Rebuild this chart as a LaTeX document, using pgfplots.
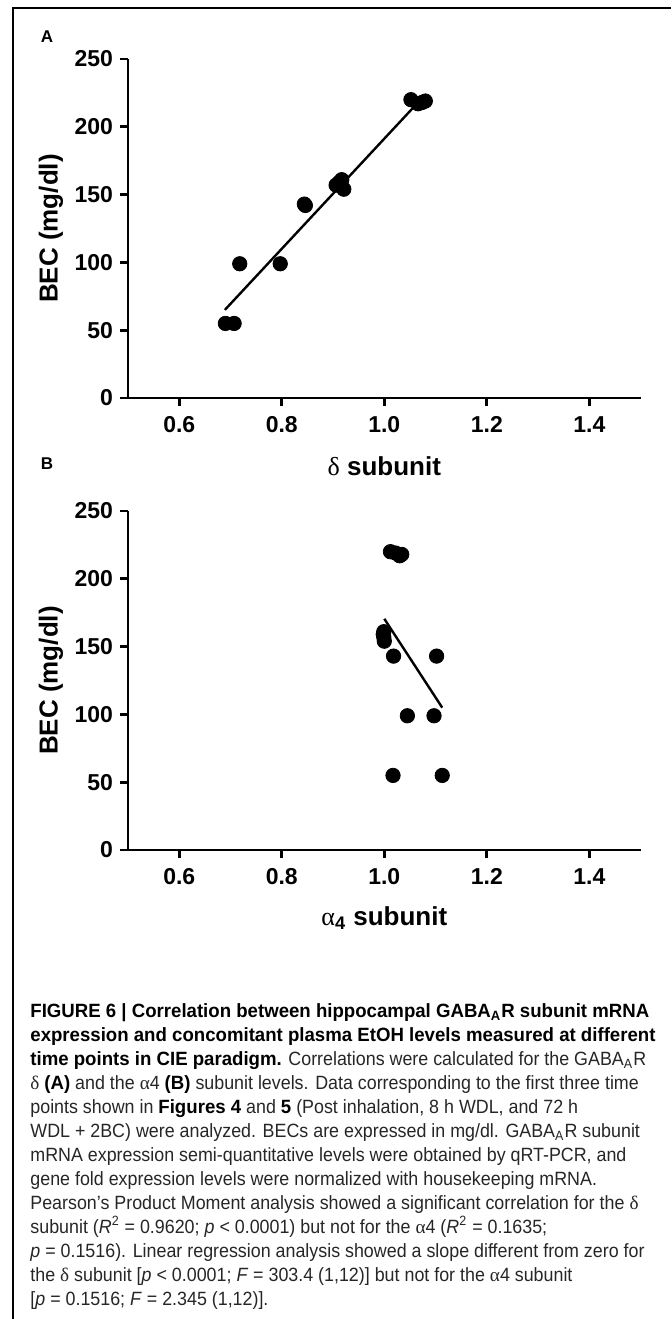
\documentclass[border=0pt]{standalone}
\usepackage{pgfplots}
\pgfplotsset{compat=1.18}
\usepackage{fontspec}
\setmainfont{Liberation Sans}
\newfontfamily\greek{Liberation Serif}
\newfontfamily\capfont[FakeStretch=0.93, BoldFeatures={FakeStretch=0.97}]{Liberation Sans}

\pgfplotstableread{
x y
0.690 55
0.707 55
0.718 99
0.797 99
0.844 143
0.846 142
0.906 157
0.912 159
0.917 161
0.921 154
1.052 220
1.066 217
1.074 218
1.080 219
}\deltadata

\pgfplotstableread{
x y
1.012 220
1.022 219
1.030 217
1.034 218
0.999 161
0.998 159
0.999 157
1.000 154
1.018 143
1.102 143
1.045 99
1.097 99
1.017 55
1.113 55
}\alphadata

\pgfplotsset{
  prism/.style={
    scale only axis, width=256.3pt, height=169.5pt,
    anchor=south west,
    xmin=0.5, xmax=1.5, ymin=0, ymax=250,
    axis x line=bottom, axis y line=left,
    axis line style={line width=1.4pt,-},
    every tick/.style={line width=1.4pt, black},
    tick align=outside, major tick length=4pt,
    xtick={0.6,0.8,1.0,1.2,1.4},
    xticklabels={0.6,0.8,1.0,1.2,1.4},
    ytick={0,50,100,150,200,250},
    /pgf/number format/assume math mode=true,
    ticklabel style={font=\bfseries\fontsize{11.5}{13}\selectfont},
    xticklabel style={text height=8.3pt, text depth=0pt, yshift=-1.5pt},
    xlabel style={at={(axis description cs:0.5,0)}, anchor=center, yshift=-34pt, font=\bfseries\fontsize{13}{15}\selectfont},
    ylabel style={at={(axis description cs:-0.1502,0.5)}, anchor=center, font=\bfseries\fontsize{13}{15}\selectfont},
    ylabel={BEC (mg/dl)},
    clip=false,
  }
}

\begin{document}
\begin{tikzpicture}[x=1pt,y=1pt]
\useasboundingbox (0,0) rectangle (335.5,-659.5);
\draw[line width=1pt] (6.5,-659.5) -- (6.5,-4) -- (335.5,-4);

\node[font=\bfseries\fontsize{8.5}{10}\selectfont] at (23.5,-18.5) {A};
\node[font=\bfseries\fontsize{8.5}{10}\selectfont] at (23.5,-232) {B};

\begin{axis}[prism, at={(64pt,-199pt)}, xlabel={{\mdseries\greek δ} subunit}]
\addplot[only marks, mark=*, mark size=3.6pt, black] table {\deltadata};
\addplot[line width=1.2pt, black] coordinates {(0.689,65) (1.077,222.5)};
\end{axis}

\begin{axis}[prism, at={(64pt,-425pt)}, xlabel={{\mdseries\greek α}\textsubscript{4} subunit}]
\addplot[only marks, mark=*, mark size=3.6pt, black] table {\alphadata};
\addplot[line width=1.2pt, black] coordinates {(1.0,170.5) (1.113,105)};
\end{axis}

\begin{scope}[every node/.style={anchor=base west, inner sep=0pt, font=\capfont\fontsize{9.6}{11}\selectfont, text=black!85}]
\node at (15,-508.5) {\bfseries\color{black}FIGURE 6 | Correlation between hippocampal GABA\textsubscript{A}R subunit mRNA};
\node at (15,-520.5) {\bfseries\color{black}expression and concomitant plasma EtOH levels measured at different};
\node at (15,-532.5) {{\bfseries\color{black}time points in CIE paradigm.} Correlations were calculated for the GABA\textsubscript{A}R};
\node at (15,-544.5) {{\greek δ} {\bfseries\color{black}(A)} and the {\greek α}4 {\bfseries\color{black}(B)} subunit levels. Data corresponding to the first three time};
\node at (15,-556.5) {points shown in {\bfseries\color{black}Figures 4} and {\bfseries\color{black}5} (Post inhalation, 8 h WDL, and 72 h};
\node at (15,-568.5) {WDL + 2BC) were analyzed. BECs are expressed in mg/dl. GABA\textsubscript{A}R subunit};
\node at (15,-580.5) {mRNA expression semi-quantitative levels were obtained by qRT-PCR, and};
\node at (15,-592.5) {gene fold expression levels were normalized with housekeeping mRNA.};
\node at (15,-604.5) {Pearson’s Product Moment analysis showed a significant correlation for the {\greek δ}};
\node at (15,-616.5) {subunit (\textit{R}\textsuperscript{2} = 0.9620; \textit{p} < 0.0001) but not for the {\greek α}4 (\textit{R}\textsuperscript{2} = 0.1635;};
\node at (15,-628.5) {\textit{p} = 0.1516). Linear regression analysis showed a slope different from zero for};
\node at (15,-640.5) {the {\greek δ} subunit [\textit{p} < 0.0001; \textit{F} = 303.4 (1,12)] but not for the {\greek α}4 subunit};
\node at (15,-652.5) {[\textit{p} = 0.1516; \textit{F} = 2.345 (1,12)].};
\end{scope}
\end{tikzpicture}
\end{document}
